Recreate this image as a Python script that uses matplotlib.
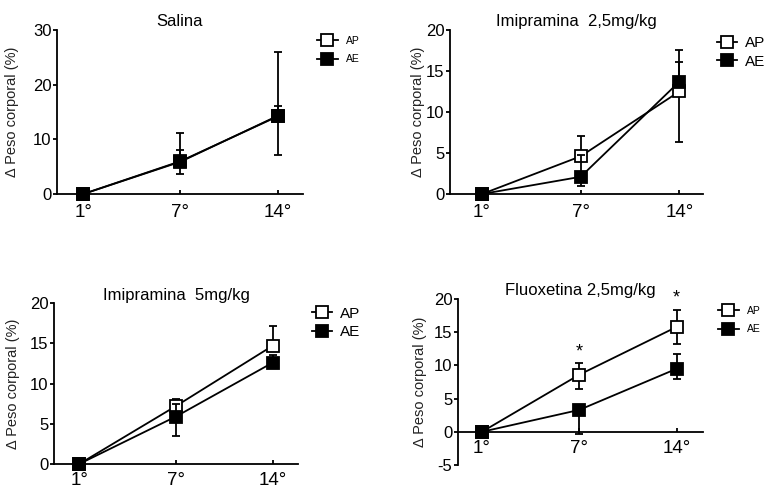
import matplotlib
matplotlib.use("Agg")
import matplotlib.pyplot as plt
from matplotlib.lines import Line2D

plt.rcParams['font.family'] = ['Liberation Sans', 'DejaVu Sans']
plt.rcParams['axes.unicode_minus'] = False

days = ['1°', '7°', '14°']
x = [0, 1, 2]

# Salina
sal_ap = [0.0, 6.0, 14.2]
sal_ap_lo = [0.0, 2.4, 7.0]
sal_ap_hi = [0.0, 2.0, 1.9]
sal_ae = [0.0, 5.9, 14.3]
sal_ae_lo = [0.0, 0.0, 0.0]
sal_ae_hi = [0.0, 5.2, 11.7]

# Imipramina 2,5 mg/kg
imi25_ap = [0.0, 4.6, 12.5]
imi25_ap_lo = [0.0, 0.0, 6.2]
imi25_ap_hi = [0.0, 2.5, 3.6]
imi25_ae = [0.0, 2.1, 13.7]
imi25_ae_lo = [0.0, 1.1, 0.0]
imi25_ae_hi = [0.0, 2.6, 3.9]

# Imipramina 5 mg/kg
imi5_ap = [0.0, 7.2, 14.7]
imi5_ap_lo = [0.0, 0.0, 0.0]
imi5_ap_hi = [0.0, 0.9, 2.4]
imi5_ae = [0.0, 5.9, 12.6]
imi5_ae_lo = [0.0, 2.4, 0.0]
imi5_ae_hi = [0.0, 1.5, 0.9]

# Fluoxetina 2,5 mg/kg
flx_ap = [0.0, 8.6, 15.8]
flx_ap_lo = [0.0, 2.2, 2.6]
flx_ap_hi = [0.0, 1.7, 2.6]
flx_ae = [0.0, 3.3, 9.5]
flx_ae_lo = [0.0, 3.6, 1.6]
flx_ae_hi = [0.0, 0.0, 2.2]
flx_signif = ['', '*', '*']

W, H = 771, 486
fig = plt.figure(figsize=(W / 100, H / 100), dpi=100)

LW = 1.3
MS = 8.6


def px_rect(left, top, right, bottom):
    return [left / W, 1 - bottom / H, (right - left) / W, (bottom - top) / H]


def panel(rect, title, ap, ap_lo, ap_hi, ae, ae_lo, ae_hi, ylim, yticks, xlim,
          leg_anchor, leg_fs, leg_hl, leg_tp, leg_ls, ylab_x, title_pad=3,
          xpad=7, zero_axis=False):
    ax = fig.add_axes(px_rect(*rect))
    common = dict(color='black', lw=LW, ms=MS, mew=LW, capsize=3,
                  elinewidth=LW, capthick=LW, clip_on=False)
    ax.errorbar(x, ap, yerr=[ap_lo, ap_hi], fmt='s-', mfc='white',
                mec='black', zorder=3, **common)
    ax.errorbar(x, ae, yerr=[ae_lo, ae_hi], fmt='s-', mfc='black',
                mec='black', zorder=4, **common)
    ax.set_xlim(*xlim)
    ax.set_ylim(*ylim)
    ax.set_yticks(yticks)
    ax.set_xticks(x)
    ax.set_xticklabels(days)
    for s in ('top', 'right'):
        ax.spines[s].set_visible(False)
    for s in ('left', 'bottom'):
        ax.spines[s].set_linewidth(LW)
    if zero_axis:
        ax.spines['bottom'].set_position(('data', 0))
    ax.tick_params(axis='y', direction='out', length=3, width=LW,
                   labelsize=12, pad=1)
    ax.tick_params(axis='x', direction='in', length=3, width=LW,
                   labelsize=13.5, pad=xpad)
    ax.set_title(title, fontsize=12, pad=title_pad)
    ax.set_ylabel('Δ Peso corporal (%)', fontsize=10.5, color='#222222')
    ax.yaxis.set_label_coords(ylab_x, 0.5)
    handles = [
        Line2D([], [], color='black', lw=LW, marker='s', ms=MS, mew=LW,
               mfc='white', mec='black'),
        Line2D([], [], color='black', lw=LW, marker='s', ms=MS, mew=LW,
               mfc='black', mec='black'),
    ]
    ax.legend(handles, ['AP', 'AE'], loc='center left',
              bbox_to_anchor=(leg_anchor[0] / W, 1 - leg_anchor[1] / H),
              bbox_transform=fig.transFigure, frameon=False, fontsize=leg_fs,
              handlelength=leg_hl, handletextpad=leg_tp, labelspacing=leg_ls,
              borderpad=0, borderaxespad=0)
    return ax


panel((57, 30, 303, 194), 'Salina', sal_ap, sal_ap_lo, sal_ap_hi,
      sal_ae, sal_ae_lo, sal_ae_hi, (0, 30), [0, 10, 20, 30], (-0.27, 2.26),
      (317, 50), 7.5, 2.0, 0.8, 0.85, -0.154)

panel((450, 30, 703, 194), 'Imipramina  2,5mg/kg', imi25_ap, imi25_ap_lo,
      imi25_ap_hi, imi25_ae, imi25_ae_lo, imi25_ae_hi, (0, 20),
      [0, 5, 10, 15, 20], (-0.325, 2.24),
      (717, 52.5), 11, 1.3, 0.5, 0.3, -0.097)

panel((54, 303, 298, 464), 'Imipramina  5mg/kg', imi5_ap, imi5_ap_lo,
      imi5_ap_hi, imi5_ae, imi5_ae_lo, imi5_ae_hi, (0, 20),
      [0, 5, 10, 15, 20], (-0.26, 2.26),
      (312, 323), 11, 1.3, 0.5, 0.3, -0.139, title_pad=1.5, xpad=6)

ax4 = panel((458, 299, 703, 465), 'Fluoxetina 2,5mg/kg', flx_ap, flx_ap_lo,
            flx_ap_hi, flx_ae, flx_ae_lo, flx_ae_hi, (-5, 20),
            [-5, 0, 5, 10, 15, 20], (-0.246, 2.27),
            (718, 320), 7.5, 2.0, 0.8, 0.85, -0.127, xpad=6,
            zero_axis=True)

# significance marks above the AP error bars
for xi, m, mean_v, hi_v in zip(x, flx_signif, flx_ap, flx_ap_hi):
    if m:
        ax4.text(xi, mean_v + hi_v + 0.4, m, ha='center', va='bottom',
                 fontsize=13)

fig.savefig('out.png', dpi=100)
